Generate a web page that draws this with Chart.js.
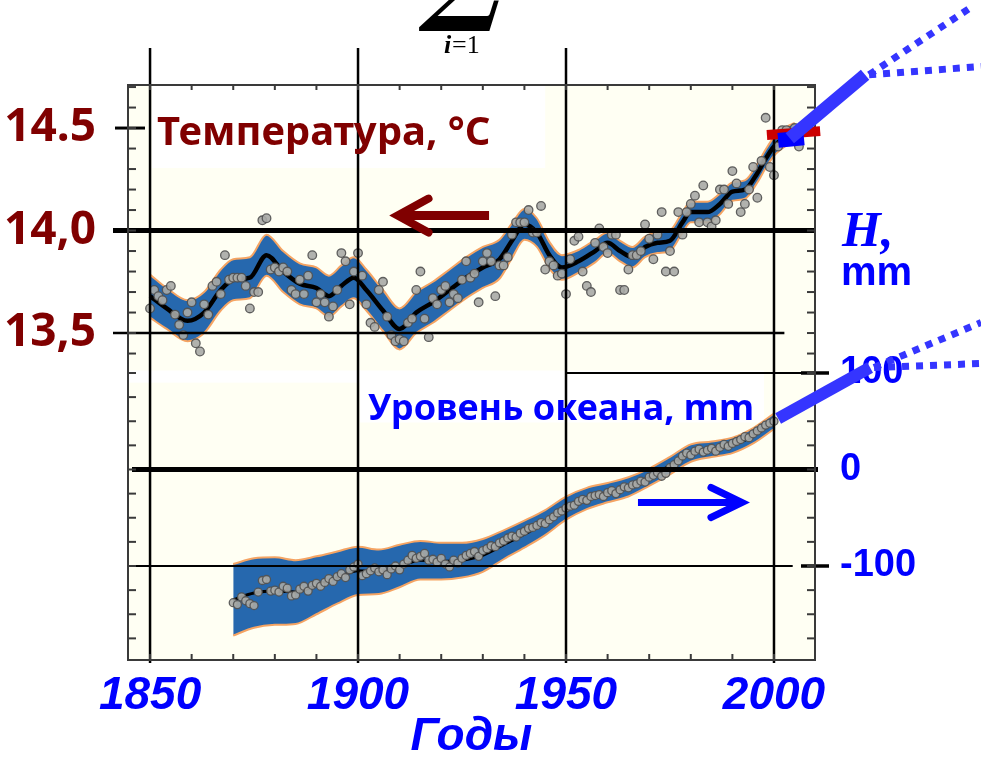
<!DOCTYPE html>
<html>
<head>
<meta charset="utf-8">
<script src="https://cdn.jsdelivr.net/npm/chart.js@4.4.1/dist/chart.umd.min.js"></script>
<style>
  html, body { margin: 0; padding: 0; background: #fff; }
  #wrap { width: 981px; height: 758px; }
</style>
</head>
<body>
<div id="wrap"><canvas id="chart" width="981" height="758"></canvas></div>
<script>
// оси
const xTickYears = [1850, 1900, 1950, 2000];
const tempTickValues = [13.5, 14.0, 14.5];
const tempTickLabels = ['13,5', '14,0', '14.5'];
const seaTickValues = [-100, 0, 100];
const seaTickLabels = ['-100', '0', '100'];

// температура: сглаженная кривая и полоса неопределённости
const tempSmoothYears = [1850,1854,1859,1863,1867,1870,1874,1878,1882,1886,1890,1893,1896,1899,1902,1906,1910,1914,1918,1922,1926,1930,1934,1937,1940,1943,1946,1949,1953,1957,1960,1963,1966,1969,1972,1975,1978,1980,1984,1987,1990,1993,1996,1998,2000,2003,2005];
const tempSmooth = [13.68,13.62,13.56,13.60,13.71,13.76,13.77,13.88,13.80,13.74,13.72,13.68,13.73,13.77,13.71,13.61,13.52,13.60,13.65,13.71,13.77,13.82,13.86,13.95,14.03,13.99,13.88,13.82,13.85,13.90,13.94,13.90,13.87,13.92,13.94,13.95,14.04,14.09,14.09,14.13,14.19,14.20,14.28,14.35,14.41,14.46,14.48];
const tempBandHalf = [0.105,0.10,0.10,0.10,0.10,0.10,0.10,0.10,0.10,0.10,0.10,0.10,0.10,0.10,0.10,0.10,0.10,0.10,0.10,0.10,0.10,0.10,0.095,0.085,0.075,0.07,0.065,0.06,0.055,0.055,0.05,0.05,0.05,0.05,0.05,0.05,0.05,0.05,0.05,0.05,0.045,0.045,0.045,0.045,0.045,0.045,0.045];

// температура: годовые значения 1850-2006
const tempFirstYear = 1850;
const tempAnnual = [
  13.62,13.71,13.68,13.66,13.71,13.73,13.59,13.54,13.49,13.60,
  13.65,13.45,13.41,13.64,13.59,13.73,13.75,13.69,13.88,13.76,
  13.77,13.77,13.77,13.73,13.62,13.70,13.70,14.05,14.06,13.81,
  13.82,13.80,13.82,13.80,13.71,13.69,13.76,13.69,13.78,13.88,
  13.65,13.69,13.65,13.58,13.63,13.71,13.89,13.85,13.64,13.80,
  13.89,13.78,13.64,13.55,13.53,13.71,13.75,13.58,13.49,13.46,
  13.47,13.46,13.55,13.57,13.71,13.80,13.57,13.48,13.67,13.64,
  13.71,13.73,13.65,13.69,13.67,13.76,13.85,13.77,13.79,13.65,
  13.85,13.89,13.85,13.68,13.83,13.83,13.87,13.98,14.04,14.04,
  14.04,14.10,13.99,13.99,14.12,13.81,13.85,13.83,13.78,13.79,
  13.69,13.86,13.95,13.97,13.80,13.73,13.70,13.94,14.01,13.92,
  13.89,13.98,13.98,13.71,13.71,13.81,13.88,13.88,13.90,14.03,
  13.96,13.86,13.98,14.09,13.80,13.90,13.80,14.09,13.98,14.09,
  14.13,14.17,14.04,14.22,14.04,14.02,14.05,14.20,14.20,14.13,
  14.29,14.23,14.09,14.13,14.20,14.31,14.16,14.34,14.55,14.31,
  14.27,14.41,14.49,14.49,14.45,14.50,14.41
];

// уровень океана: сглаженная кривая и полоса
const seaSmoothYears = [1870,1875,1880,1885,1890,1895,1900,1905,1910,1915,1920,1925,1930,1935,1940,1945,1950,1955,1960,1965,1970,1975,1980,1985,1990,1995,2000];
const seaSmooth = [-135,-128,-126,-127,-120,-112,-105,-106,-100,-94,-95,-94,-89,-78,-67,-55,-40,-30,-24,-18,-8,4,17,21,25,35,50];
const seaBandHalf = [37,36,35,33,30,27,25,23,22,20,19,18,17,15,14,13,12,11,10,10,9,9,9,8,8,8,8];

// уровень океана: годовые значения 1870-2000
const seaFirstYear = 1870;
const seaAnnual = [
  -138,-140,-132,-136,-139,-141,-127,-115,-114,-126,
  -125,-127,-121,-123,-131,-130,-124,-121,-126,-120,
  -118,-121,-117,-113,-116,-111,-108,-112,-104,-101,
  -98,-110,-108,-105,-102,-106,-104,-109,-103,-100,
  -104,-98,-94,-89,-92,-90,-87,-94,-93,-96,
  -92,-98,-101,-94,-97,-92,-89,-87,-85,-90,
  -84,-82,-79,-80,-76,-74,-71,-69,-70,-66,
  -64,-61,-60,-58,-55,-56,-52,-49,-45,-43,
  -40,-38,-37,-33,-31,-32,-28,-27,-26,-28,
  -24,-22,-25,-21,-18,-19,-16,-15,-12,-13,
  -8,-6,-3,-7,-4,2,5,9,14,17,
  15,19,21,18,20,22,19,23,26,24,
  27,29,31,34,33,37,40,43,46,48,
  50
];

// прогнозные отрезки справа
const tempProjYears = [2003.8, 2021.9];
const tempProjValues = [14.45, 14.76];
const tempFanYears = [2047.1, 2049.8];
const tempFanValues = [15.085, 14.80];
const seaProjYears = [2001, 2023.1];
const seaProjValues = [52.8, 105.7];
const seaFanYears = [2049.8, 2049.8];
const seaFanValues = [152.3, 109.8];
const redMarkYears = [1998.3, 2011.1];
const redMarkValues = [14.466, 14.485];
const blueMarkYears = [2001, 2007.2];
const blueMarkValues = [14.44, 14.452];

const X_MIN = 1844.7, X_MAX = 2009.86;
const T_MIN = 11.905, T_MAX = 14.71;
const H_MIN = -197.4, H_MAX = 398.4;

const BAND = '#2668ae';
const EDGE = '#f5a463';
const DARKRED = '#800000';
const BLUE = '#0000ff';

const pts = (xs, ys) => xs.map((x, i) => ({ x, y: ys[i] }));
const annualPts = (first, ys) => ys.map((y, i) => ({ x: first + i, y }));

const tempUpper = pts(tempSmoothYears, tempSmooth.map((v, i) => v + tempBandHalf[i]));
const tempLower = pts(tempSmoothYears, tempSmooth.map((v, i) => v - tempBandHalf[i]));
const seaUpper = pts(seaSmoothYears, seaSmooth.map((v, i) => v + seaBandHalf[i]));
const seaLower = pts(seaSmoothYears, seaSmooth.map((v, i) => v - seaBandHalf[i]));

const dotStyle = {
  type: 'scatter', showLine: false,
  pointRadius: 4.3, pointBackgroundColor: 'rgba(168,170,166,0.9)',
  pointBorderColor: 'rgba(80,80,80,0.9)', pointBorderWidth: 1.3
};
const lineStyle = { type: 'line', pointRadius: 0, cubicInterpolationMode: 'monotone', fill: false };
const axisFont = { family: '"Liberation Sans", Arial, sans-serif', size: 46, weight: 'bold', style: 'italic' };

/* ---------------------------
   фон, линии, подписи, стрелки
   --------------------------- */
const decor = {
  id: 'decor',
  beforeDraw(chart) {
    const { ctx, chartArea: a } = chart;
    const px = v => chart.scales.x.getPixelForValue(v);
    const pt = v => chart.scales.yT.getPixelForValue(v);
    const ph = v => chart.scales.yH.getPixelForValue(v);
    ctx.save();
    ctx.fillStyle = '#fff';
    ctx.fillRect(0, 0, chart.width, chart.height);
    ctx.fillStyle = '#fffff3';
    ctx.fillRect(a.left, a.top, a.width, a.height);
    ctx.fillStyle = '#fff';
    ctx.fillRect(px(1850.4), a.top + 1, px(1945) - px(1850.4), pt(14.31) - a.top);
    ctx.fillRect(a.left + 1, ph(102.6), px(1900.5) - a.left, ph(90) - ph(102.6));
    ctx.fillRect(px(1900.5), ph(102.6), px(1997.6) - px(1900.5), ph(48.7) - ph(102.6));
    ctx.restore();
  },
  afterDatasetsDraw(chart) {
    const { ctx, chartArea: a } = chart;
    const px = v => chart.scales.x.getPixelForValue(v);
    const pt = v => chart.scales.yT.getPixelForValue(v);
    const ph = v => chart.scales.yH.getPixelForValue(v);
    const line = (x1, y1, x2, y2, w) => {
      ctx.beginPath(); ctx.lineWidth = w; ctx.moveTo(x1, y1); ctx.lineTo(x2, y2); ctx.stroke();
    };
    ctx.save();
    ctx.strokeStyle = '#000';
    ctx.lineCap = 'butt';

    // вертикальные линии сетки
    xTickYears.forEach(yr => {
      const top = yr === 2000 ? a.top : a.top - 37;
      line(px(yr), top, px(yr), a.bottom + 3, 2.5);
    });

    // горизонтальные линии
    line(a.left - 15, pt(14.0), a.right, pt(14.0), 5);
    line(a.left - 15, pt(13.5), px(2002.5), pt(13.5), 2.5);
    line(a.left - 13, pt(14.5), a.left + 17, pt(14.5), 3);
    line(a.left + 4, ph(0), a.right + 3, ph(0), 5);
    line(a.left, ph(-100), px(2004.5), ph(-100), 2);
    line(px(1950), ph(100), a.right, ph(100), 2);
    line(a.right - 14, ph(100), a.right + 14, ph(100), 3.5);
    line(a.right - 14, ph(-100), a.right + 14, ph(-100), 3.5);

    // рамка и мелкие засечки
    ctx.strokeStyle = '#3a3a3a';
    ctx.lineWidth = 2;
    ctx.strokeRect(a.left, a.top, a.width, a.height);
    for (let yr = 1850; yr <= 2000; yr += 10) {
      line(px(yr), a.top, px(yr), a.top + 5, 2);
      line(px(yr), a.bottom, px(yr), a.bottom - 6, 2);
    }
    const split = ph(110);
    for (let k = 134; k <= 147; k++) {
      const y = pt(k / 10);
      if (y > split) continue;
      line(a.left, y, a.left + 8, y, 2);
      line(a.right, y, a.right - 8, y, 2);
    }
    for (let k = -7; k <= 4; k++) {
      const y = ph(k * 25);
      if (y < split) continue;
      line(a.left, y, a.left + 8, y, 2);
      line(a.right, y, a.right - 8, y, 2);
    }

    // подписи внутри графика
    ctx.textBaseline = 'alphabetic';
    ctx.textAlign = 'left';
    ctx.fillStyle = DARKRED;
    ctx.font = 'bold 40px "Noto Sans", "Open Sans", sans-serif';
    ctx.fillText('Температура, °C', px(1851.7), pt(14.415));
    ctx.fillStyle = BLUE;
    ctx.font = 'bold 36px "Noto Sans", "Open Sans", sans-serif';
    ctx.fillText('Уровень океана, mm', px(1902.4), ph(50.8));

    // стрелки
    ctx.lineJoin = 'miter';
    ctx.strokeStyle = DARKRED;
    const ry = pt(14.073), rTip = px(1909.5);
    line(px(1931.5), ry, rTip + 4, ry, 9);
    ctx.beginPath(); ctx.lineWidth = 8; ctx.lineCap = 'round';
    ctx.moveTo(rTip + 31, ry - 17); ctx.lineTo(rTip, ry); ctx.lineTo(rTip + 31, ry + 17); ctx.stroke();
    ctx.lineCap = 'butt';
    ctx.strokeStyle = BLUE;
    const by = ph(-34.2), bTip = px(1992.3);
    line(px(1967.3), by, bTip - 4, by, 7);
    ctx.beginPath(); ctx.lineWidth = 7; ctx.lineCap = 'round';
    ctx.moveTo(bTip - 31, by - 15); ctx.lineTo(bTip, by); ctx.lineTo(bTip - 31, by + 15); ctx.stroke();
    ctx.lineCap = 'butt';

    // красная и синяя метки в 2000-х
    ctx.strokeStyle = '#cc0000';
    line(px(redMarkYears[0]), pt(redMarkValues[0]), px(redMarkYears[1]), pt(redMarkValues[1]), 10);
    ctx.strokeStyle = BLUE;
    line(px(blueMarkYears[0]), pt(blueMarkValues[0]), px(blueMarkYears[1]), pt(blueMarkValues[1]), 15);

    // прогнозные веера
    ctx.strokeStyle = '#3535ff';
    const tA = [px(tempProjYears[0]), pt(tempProjValues[0])];
    const tB = [px(tempProjYears[1]), pt(tempProjValues[1])];
    line(tA[0], tA[1], tB[0], tB[1], 13);
    const sA = [px(seaProjYears[0]), ph(seaProjValues[0])];
    const sB = [px(seaProjYears[1]), ph(seaProjValues[1])];
    line(sA[0], sA[1], sB[0], sB[1], 12);
    ctx.setLineDash([7, 7]);
    tempFanYears.forEach((yr, i) => line(tB[0] + 4, tB[1], px(yr), pt(tempFanValues[i]), 7));
    seaFanYears.forEach((yr, i) => line(sB[0] + 4, sB[1], px(yr), ph(seaFanValues[i]), 7));
    ctx.setLineDash([]);

    // подпись правой оси
    ctx.fillStyle = BLUE;
    ctx.font = 'italic bold 50px "Liberation Serif", "DejaVu Serif", serif';
    ctx.fillText('H,', a.right + 27, pt(13.925));
    ctx.font = 'bold 40px "Liberation Sans", Arial, sans-serif';
    ctx.fillText('mm', a.right + 26, pt(13.735));

    // обрезанная формула сверху
    ctx.fillStyle = '#000';
    ctx.font = 'bold 110px "DejaVu Serif", serif';
    ctx.fillText('\u2211', 418, 10);
    ctx.font = 'italic bold 26px "Liberation Serif", serif';
    ctx.fillText('i', 444, 53);
    ctx.font = '26px "Liberation Serif", serif';
    ctx.fillText('=1', 452, 53);
    ctx.restore();
  }
};

new Chart(document.getElementById('chart'), {
  data: {
    datasets: [
      { ...dotStyle, data: annualPts(tempFirstYear, tempAnnual), yAxisID: 'yT', order: 0 },
      { ...dotStyle, pointRadius: 4, data: annualPts(seaFirstYear, seaAnnual), yAxisID: 'yH', order: 0 },
      { ...lineStyle, data: pts(tempSmoothYears, tempSmooth), yAxisID: 'yT', borderColor: '#000', borderWidth: 4.5, order: 1 },
      { ...lineStyle, data: pts(seaSmoothYears, seaSmooth), yAxisID: 'yH', borderColor: '#000', borderWidth: 3, order: 1 },
      { ...lineStyle, data: tempUpper, yAxisID: 'yT', borderColor: EDGE, borderWidth: 2, fill: '+1', backgroundColor: BAND, order: 3 },
      { ...lineStyle, data: tempLower, yAxisID: 'yT', borderColor: EDGE, borderWidth: 2, order: 2 },
      { ...lineStyle, data: seaUpper, yAxisID: 'yH', borderColor: EDGE, borderWidth: 2, fill: '+1', backgroundColor: BAND, order: 3 },
      { ...lineStyle, data: seaLower, yAxisID: 'yH', borderColor: EDGE, borderWidth: 2, order: 2 }
    ]
  },
  options: {
    responsive: false,
    animation: false,
    layout: { padding: { top: 85, left: 0, right: 0, bottom: 0 } },
    plugins: { legend: { display: false }, tooltip: { enabled: false } },
    scales: {
      x: {
        type: 'linear', min: X_MIN, max: X_MAX,
        afterBuildTicks: s => { s.ticks = xTickYears.map(v => ({ value: v })); },
        afterFit: s => { s.height = 98; },
        grid: { display: false }, border: { display: false },
        ticks: {
          color: BLUE, padding: 1, maxRotation: 0, autoSkip: false,
          font: axisFont,
          callback: v => String(v)
        },
        title: {
          display: true, text: 'Годы', color: BLUE, padding: { top: 0, bottom: 0 },
          font: { ...axisFont, lineHeight: 0.9 }
        }
      },
      yT: {
        type: 'linear', position: 'left', min: T_MIN, max: T_MAX,
        afterBuildTicks: s => { s.ticks = tempTickValues.map(v => ({ value: v })); },
        afterFit: s => { s.width = 128; },
        grid: { display: false }, border: { display: false },
        ticks: {
          color: DARKRED, padding: 24,
          font: { family: '"Noto Sans", "Open Sans", sans-serif', size: 46, weight: 'bold' },
          callback: v => tempTickLabels[tempTickValues.indexOf(v)] ?? ''
        }
      },
      yH: {
        type: 'linear', position: 'right', min: H_MIN, max: H_MAX,
        afterBuildTicks: s => { s.ticks = seaTickValues.map(v => ({ value: v })); },
        afterFit: s => { s.width = 166; },
        grid: { display: false }, border: { display: false },
        ticks: {
          color: BLUE, padding: 17,
          font: { family: '"Liberation Sans", Arial, sans-serif', size: 38, weight: 'bold' },
          callback: v => seaTickLabels[seaTickValues.indexOf(v)] ?? ''
        }
      }
    }
  },
  plugins: [decor]
});
</script>
</body>
</html>
